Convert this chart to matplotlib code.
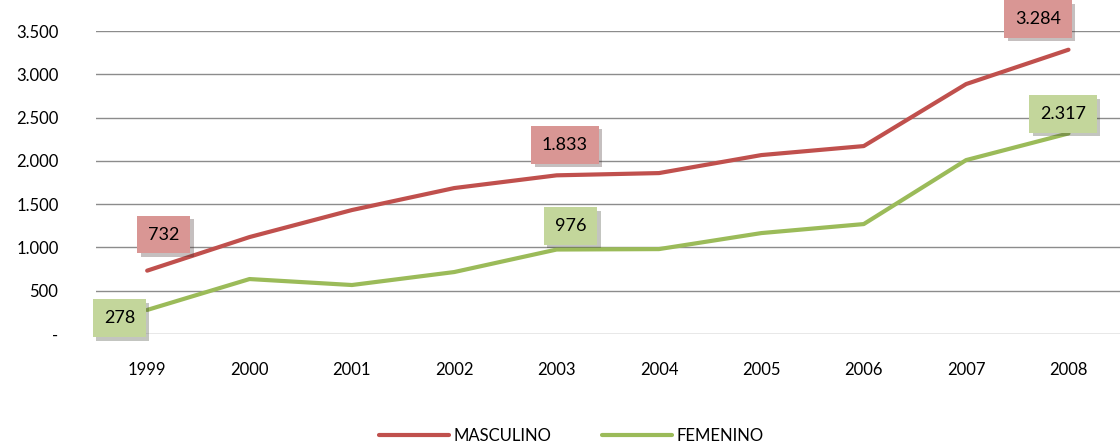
import matplotlib
matplotlib.use("Agg")
import matplotlib.pyplot as plt
import matplotlib.patheffects as pe

plt.rcParams['font.family'] = ['Lato', 'DejaVu Sans']

anios = ['1999', '2000', '2001', '2002', '2003', '2004', '2005', '2006', '2007', '2008']
masculino = [732, 1120, 1432, 1686, 1833, 1859, 2067, 2171, 2887, 3284]
femenino = [278, 635, 566, 716, 976, 981, 1166, 1270, 2009, 2317]

rojo = '#C0504D'
verde = '#9BBB59'

fig = plt.figure(figsize=(11.2, 4.43), dpi=100)
ax = fig.add_axes([0.0857, 0.246, 0.914, 0.684])

x = range(len(anios))
ax.plot(x, masculino, color=rojo, lw=3, label='MASCULINO', solid_capstyle='round')
ax.plot(x, femenino, color=verde, lw=3, label='FEMENINO', solid_capstyle='round')

ax.set_xlim(-0.5, len(anios) - 0.5)
ax.set_ylim(0, 3500)
ax.set_yticks(range(0, 3501, 500))
ax.set_yticklabels(['-' if v == 0 else f'{v:,}'.replace(',', '.') for v in range(0, 3501, 500)])
ax.set_xticks(list(x))
ax.set_xticklabels(anios)
ax.tick_params(axis='y', length=0, pad=27, labelsize=12)
ax.tick_params(axis='x', length=0, pad=20, labelsize=12)
ax.grid(axis='y', color='#8c8c8c', lw=1)
ax.set_axisbelow(True)
for s in ax.spines.values():
    s.set_visible(False)

# etiquetas de datos
etiquetas = [
    (0, masculino[0], (12, 26), '#D99694'),
    (4, masculino[4], (6, 22), '#D99694'),
    (9, masculino[9], (-22, 22), '#D99694'),
    (0, femenino[0], (-20, -6), '#C3D69B'),
    (4, femenino[4], (10, 17), '#C3D69B'),
    (9, femenino[9], (-4, 14), '#C3D69B'),
]
for i, v, off, c in etiquetas:
    t = ax.annotate(f'{v:,}'.replace(',', '.'), (i, v), xytext=off, textcoords='offset points',
                    ha='center', va='center', fontsize=13, zorder=5,
                    bbox=dict(boxstyle='square,pad=0.6', fc=c, ec='none'))
    t.get_bbox_patch().set_path_effects([pe.SimplePatchShadow(offset=(2.5, -2.5), alpha=0.3), pe.Normal()])

fig.legend(loc='lower center', ncol=2, frameon=False, fontsize=12,
           bbox_to_anchor=(0.51, -0.035), handlelength=4.2, columnspacing=3, handletextpad=0.3)

fig.savefig('out.png', dpi=100)
